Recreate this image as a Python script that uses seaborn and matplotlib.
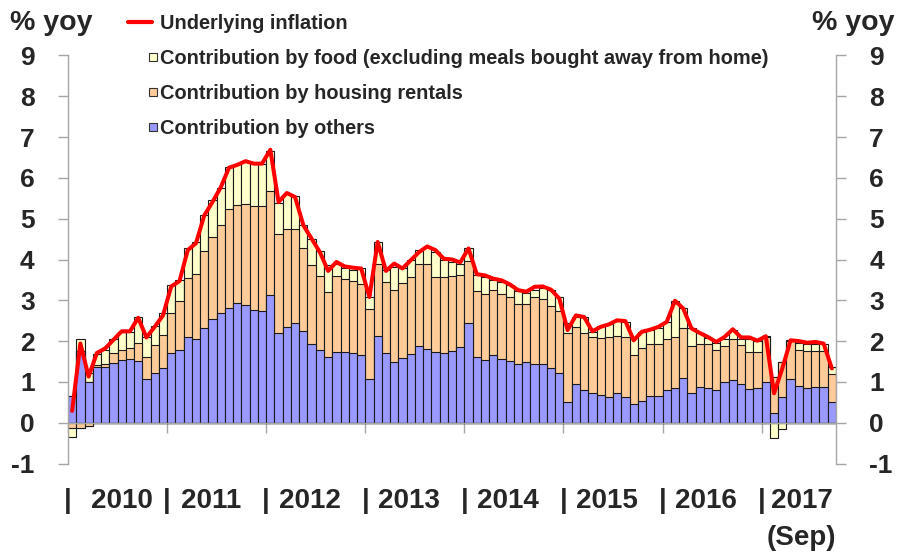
import matplotlib
matplotlib.use("Agg")
import numpy as np
import pandas as pd
import seaborn as sns
import matplotlib.pyplot as plt
from matplotlib.lines import Line2D
from matplotlib.patches import Patch, Rectangle
from matplotlib.legend_handler import HandlerPatch
from matplotlib.transforms import blended_transform_factory

# monthly data, Jan 2010 - Sep 2017 (contributions in % points)
years = ["2010", "2011", "2012", "2013", "2014", "2015", "2016", "2017"]

others = [0.66, 1.75, 0.99, 1.37, 1.37, 1.47, 1.53, 1.55, 1.51, 1.06, 1.21, 1.33,
          1.71, 1.78, 2.09, 2.04, 2.33, 2.55, 2.70, 2.81, 2.94, 2.88, 2.76, 2.73,
          3.12, 2.20, 2.35, 2.45, 2.24, 1.94, 1.79, 1.62, 1.74, 1.74, 1.71, 1.67,
          1.08, 2.12, 1.70, 1.49, 1.59, 1.68, 1.89, 1.80, 1.73, 1.71, 1.76, 1.86,
          2.45, 1.61, 1.53, 1.66, 1.57, 1.52, 1.44, 1.48, 1.44, 1.45, 1.35, 1.23,
          0.51, 0.96, 0.80, 0.72, 0.69, 0.64, 0.72, 0.62, 0.47, 0.54, 0.65, 0.65,
          0.80, 0.84, 1.10, 0.72, 0.88, 0.86, 0.80, 0.99, 1.04, 0.94, 0.82, 0.84,
          0.99, 0.25, 0.62, 1.08, 0.90, 0.84, 0.88, 0.88, 0.51]

housing = [-0.14, -0.12, -0.08, 0.04, 0.08, 0.23, 0.26, 0.29, 0.45, 0.56, 0.69, 0.82,
           0.97, 1.21, 1.45, 1.61, 1.87, 1.99, 2.14, 2.43, 2.39, 2.49, 2.56, 2.59,
           2.56, 2.42, 2.40, 2.29, 2.05, 1.93, 1.80, 1.59, 1.85, 1.79, 1.76, 1.72,
           1.70, 1.78, 1.75, 1.77, 1.84, 1.89, 1.99, 2.10, 1.84, 1.86, 1.83, 1.75,
           1.51, 1.61, 1.62, 1.60, 1.59, 1.56, 1.46, 1.42, 1.63, 1.57, 1.50, 1.51,
           1.68, 1.39, 1.39, 1.37, 1.39, 1.45, 1.40, 1.47, 1.20, 1.30, 1.27, 1.27,
           1.24, 1.25, 1.23, 1.16, 1.06, 1.06, 0.99, 0.89, 1.02, 0.96, 0.92, 0.90,
           1.11, 0.86, 0.87, 0.93, 0.89, 0.91, 0.87, 0.87, 0.68]

food = [-0.22, 0.29, 0.22, 0.27, 0.33, 0.34, 0.44, 0.39, 0.62, 0.48, 0.47, 0.53,
        0.69, 0.50, 0.73, 0.78, 0.88, 0.91, 0.91, 1.02, 1.02, 1.02, 1.03, 1.03,
        0.99, 0.76, 0.86, 0.81, 0.55, 0.64, 0.61, 0.65, 0.31, 0.25, 0.28, 0.39,
        0.30, 0.52, 0.29, 0.56, 0.36, 0.41, 0.35, 0.41, 0.61, 0.42, 0.35, 0.29,
        0.33, 0.39, 0.41, 0.23, 0.28, 0.29, 0.33, 0.28, 0.19, 0.27, 0.40, 0.33,
        0.26, 0.25, 0.39, 0.14, 0.29, 0.32, 0.39, 0.38, 0.42, 0.39, 0.35, 0.40,
        0.43, 0.90, 0.47, 0.43, 0.25, 0.16, 0.17, 0.18, 0.21, 0.16, 0.32, 0.27,
        0.03, -0.38, -0.16, 0.02, 0.17, 0.17, 0.19, 0.18, 0.18]

underlying = [0.29, 1.94, 1.13, 1.71, 1.82, 2.03, 2.24, 2.24, 2.57, 2.09, 2.35, 2.63,
              3.34, 3.47, 4.23, 4.40, 5.08, 5.41, 5.77, 6.25, 6.32, 6.41, 6.35, 6.35,
              6.69, 5.41, 5.63, 5.53, 4.84, 4.51, 4.18, 3.72, 3.94, 3.83, 3.80, 3.78,
              3.08, 4.43, 3.72, 3.90, 3.78, 3.98, 4.18, 4.32, 4.23, 4.02, 4.00, 3.93,
              4.27, 3.64, 3.61, 3.53, 3.49, 3.39, 3.25, 3.21, 3.33, 3.34, 3.26, 3.04,
              2.27, 2.63, 2.59, 2.24, 2.35, 2.41, 2.51, 2.49, 2.02, 2.23, 2.28, 2.35,
              2.47, 2.99, 2.80, 2.31, 2.20, 2.10, 1.98, 2.10, 2.29, 2.09, 2.09, 2.01,
              2.12, 0.72, 1.33, 2.02, 2.00, 1.96, 1.98, 1.94, 1.33]

labels = ["Underlying inflation",
          "Contribution by food (excluding meals bought away from home)",
          "Contribution by housing rentals",
          "Contribution by others"]

c_food = "#FFFFCC"
c_housing = "#FFCC99"
c_others = "#9999FF"

df = pd.DataFrame({"others": others, "housing": housing, "food": food,
                   "underlying": underlying})
df["month"] = np.arange(len(df))

# stacked parts, positives up from zero and negatives down from zero
pos = df[["others", "housing", "food"]].clip(lower=0)
neg = df[["others", "housing", "food"]].clip(upper=0)
df["up1"] = pos["others"]
df["up2"] = df["up1"] + pos["housing"]
df["up3"] = df["up2"] + pos["food"]
df["dn1"] = neg["housing"]
df["dn2"] = df["dn1"] + neg["food"]

sns.set_theme(style="ticks")
plt.rcParams["font.family"] = ["Liberation Sans", "DejaVu Sans"]
plt.rcParams["font.weight"] = "bold"
plt.rcParams["axes.unicode_minus"] = False

fig = plt.figure(figsize=(9.01, 5.57), dpi=100)
ax = fig.add_axes([68 / 901, 1 - 463.5 / 557, 768 / 901, 408 / 557])

bar_kw = dict(width=1.0, edgecolor="#1a1a1a", linewidth=0.8, saturation=1,
              errorbar=None, ax=ax)
for col, c in [("up3", c_food), ("up2", c_housing), ("up1", c_others),
               ("dn2", c_food), ("dn1", c_housing)]:
    sns.barplot(data=df, x="month", y=col, color=c, **bar_kw)

sns.lineplot(data=df, x="month", y="underlying", color="#FF0000", linewidth=2.9,
             ax=ax, zorder=5)

grey = "#a6a6a6"
ax.set_xlim(-0.5, len(df) - 0.5)
ax.set_ylim(-1, 9)
ax.set_yticks(range(-1, 10))
ax.set_xticks(np.arange(-0.5, len(df), 12))
ax.set_xticklabels([])
ax.set_xlabel("")
ax.set_ylabel("")
ax.spines["top"].set_visible(False)
ax.spines["bottom"].set_position(("data", 0))
for s in ["left", "right", "bottom"]:
    ax.spines[s].set_visible(True)
    ax.spines[s].set_color(grey)
    ax.spines[s].set_linewidth(1)
ax.tick_params(axis="x", direction="out", length=7, width=1, color=grey)
ax.tick_params(axis="y", direction="out", length=7, width=1, color=grey,
               labelsize=19, pad=17, left=True, right=True,
               labelleft=True, labelright=True)

# year labels under the chart
tr = blended_transform_factory(ax.transData, fig.transFigure)
ty = 1 - 501 / 557
for i, yr in enumerate(years):
    b = 12 * i - 0.5
    ax.text(b, ty, "|", transform=tr, ha="center", va="center", fontsize=20)
    if i == 0:
        cx = b + 6.5
    elif yr == "2017":
        cx = b + 4.9
    else:
        cx = b + 5.3
    ax.text(cx, ty, yr, transform=tr, ha="center", va="center", fontsize=20)
ax.text(88.3, 1 - 538 / 557, "(Sep)", transform=tr, ha="center", va="center",
        fontsize=20)

fig.text(10 / 901, 1 - 23 / 557, "% yoy", ha="left", va="center", fontsize=20.5)
fig.text(895 / 901, 1 - 23 / 557, "% yoy", ha="right", va="center", fontsize=20.5)


def small_square(legend, orig_handle, xdescent, ydescent, width, height, fontsize):
    s = 8 * 72 / 100
    return Rectangle((width - s - xdescent + 3, -ydescent + (height - s) / 2), s, s)


handles = [Line2D([], [], color="#FF0000", linewidth=3),
           Patch(facecolor=c_food, edgecolor="#333333", linewidth=0.8),
           Patch(facecolor=c_housing, edgecolor="#333333", linewidth=0.8),
           Patch(facecolor=c_others, edgecolor="#333333", linewidth=0.8)]
fig.legend(handles, labels, loc="upper left", bbox_to_anchor=(128 / 901, 1 - 14 / 557),
           frameon=False, fontsize=14.4, handlelength=1.22, handletextpad=0.4,
           labelspacing=0.8, borderpad=0, borderaxespad=0,
           handler_map={Patch: HandlerPatch(patch_func=small_square)})

fig.savefig("out.png", dpi=100)
